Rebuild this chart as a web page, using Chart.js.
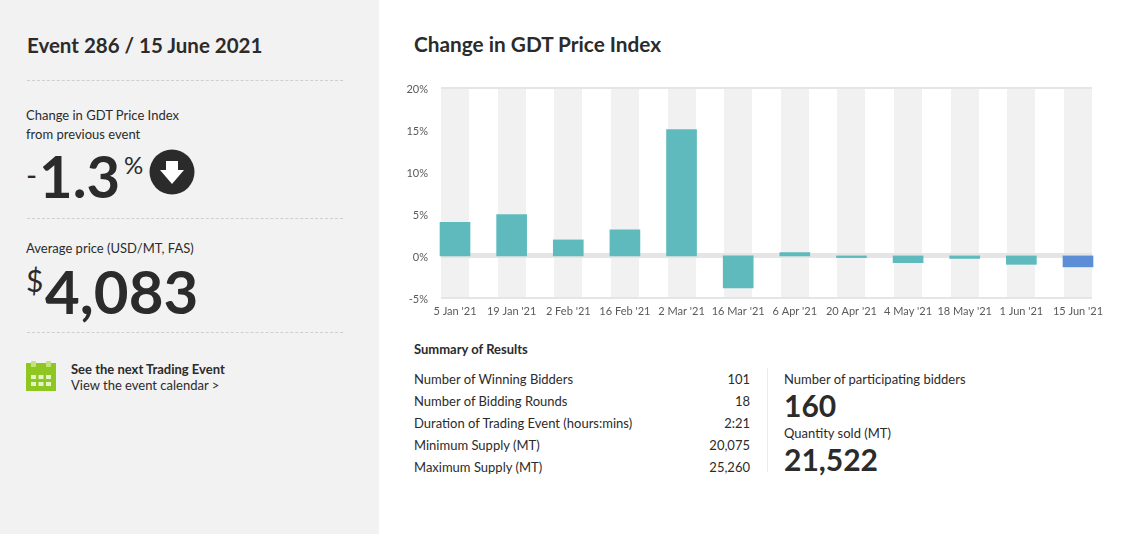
<!DOCTYPE html>
<html>
<head>
<meta charset="utf-8">
<script src="https://cdn.jsdelivr.net/npm/chart.js@4"></script>
<style>
  html, body { margin: 0; padding: 0; background: #fff; }
  body { width: 1144px; height: 534px; overflow: hidden; position: relative; font-family: Lato, sans-serif; color: #2b2b2b; }
  #side { position: absolute; left: 0; top: 0; width: 379px; height: 534px; background: #f2f2f2; }
  .t { position: absolute; white-space: nowrap; line-height: 1; }
  .dash { position: absolute; left: 27px; width: 316px; border-top: 1px dashed #cfcfcf; }
  #chartBox { position: absolute; left: 400px; top: 68px; width: 744px; height: 257px; }
  #divider { position: absolute; left: 767px; top: 368px; width: 1px; height: 104px; background: #ececec; }
</style>
</head>
<body>
<div id="side">
  <div class="t" style="left:27px;top:35px;font-size:20.5px;font-weight:700">Event 286 / 15 June 2021</div>
  <div class="dash" style="top:80px"></div>
  <div class="t" style="left:26px;top:109px;font-size:13px">Change in GDT Price Index</div>
  <div class="t" style="left:26px;top:128px;font-size:13px">from previous event</div>
  <div class="t" style="left:26px;top:159px;font-size:30px">-</div>
  <div class="t" style="left:39px;top:147px;font-size:58px;font-weight:700">1.3</div>
  <div class="t" style="left:124px;top:153px;font-size:24px">%</div>
  <svg style="position:absolute;left:149px;top:149px" width="46" height="46" viewBox="0 0 46 46">
    <circle cx="23" cy="23" r="22.5" fill="#2b2b2b"/>
    <polygon points="17,12 29,12 29,21 35,21 23,35 11,21 17,21" fill="#fff"/>
  </svg>
  <div class="dash" style="top:218px"></div>
  <div class="t" style="left:26px;top:242px;font-size:13px">Average price (USD/MT, FAS)</div>
  <div class="t" style="left:26px;top:265px;font-size:30px">$</div>
  <div class="t" style="left:45px;top:261px;font-size:60px;font-weight:700">4,083</div>
  <div class="dash" style="top:332px"></div>
  <svg style="position:absolute;left:26px;top:361px" width="30" height="30" viewBox="0 0 30 30">
    <rect x="0" y="2" width="30" height="28" fill="#8fc722"/>
    <rect x="5" y="0" width="5" height="6" rx="1" fill="#c5e27e"/>
    <rect x="20" y="0" width="5" height="6" rx="1" fill="#c5e27e"/>
    <g fill="#e6f2c8">
      <rect x="5" y="14" width="5" height="4"/><rect x="12.5" y="14" width="5" height="4"/><rect x="20" y="14" width="5" height="4"/>
      <rect x="5" y="21" width="5" height="4"/><rect x="12.5" y="21" width="5" height="4"/><rect x="20" y="21" width="5" height="4"/>
    </g>
  </svg>
  <div class="t" style="left:71px;top:363px;font-size:13px;font-weight:700">See the next Trading Event</div>
  <div class="t" style="left:71px;top:379px;font-size:13px">View the event calendar &gt;</div>
</div>

<div class="t" style="left:414px;top:34px;font-size:20.8px;font-weight:700">Change in GDT Price Index</div>
<div id="chartBox"><canvas id="gdtChart"></canvas></div>

<div class="t" style="left:414px;top:343px;font-size:13px;font-weight:700">Summary of Results</div>
<div id="summary"></div>
<div id="divider"></div>
<div class="t" style="left:784px;top:373px;font-size:13px">Number of participating bidders</div>
<div class="t" style="left:784px;top:390px;font-size:30px;font-weight:700">160</div>
<div class="t" style="left:784px;top:427px;font-size:13px">Quantity sold (MT)</div>
<div class="t" style="left:784px;top:444px;font-size:30px;font-weight:700">21,522</div>

<script>
const categories = ["5 Jan '21", "19 Jan '21", "2 Feb '21", "16 Feb '21", "2 Mar '21", "16 Mar '21",
  "6 Apr '21", "20 Apr '21", "4 May '21", "18 May '21", "1 Jun '21", "15 Jun '21"];
const changeValues = [4.0, 4.9, 1.9, 3.1, 15.0, -3.8, 0.4, -0.2, -0.8, -0.3, -1.0, -1.3];
const barColors = ["#5fbabd", "#5fbabd", "#5fbabd", "#5fbabd", "#5fbabd", "#5fbabd",
  "#5fbabd", "#5fbabd", "#5fbabd", "#5fbabd", "#5fbabd", "#5b8ed6"];
const summaryLabels = ["Number of Winning Bidders", "Number of Bidding Rounds",
  "Duration of Trading Event (hours:mins)", "Minimum Supply (MT)", "Maximum Supply (MT)"];
const summaryValues = ["101", "18", "2:21", "20,075", "25,260"];

/* summary table */
const summary = document.getElementById("summary");
summaryLabels.forEach((label, i) => {
  const top = 373 + i * 22;
  summary.insertAdjacentHTML("beforeend",
    `<div class="t" style="left:414px;top:${top}px;font-size:13px">${label}</div>` +
    `<div class="t" style="right:394px;top:${top}px;font-size:13px">${summaryValues[i]}</div>`);
});

/* chart */
new Chart(document.getElementById("gdtChart"), {
  type: "bar",
  data: {
    datasets: [{
      data: changeValues.map((v, i) => ({ x: i, y: v })),
      backgroundColor: barColors,
      barThickness: 30,
      base: 1e-9, // non-zero so bars are not shortened by the thick zero line
      clip: false
    }]
  },
  options: {
    responsive: true,
    maintainAspectRatio: false,
    animation: false,
    layout: { padding: { top: 12, right: 52 } },
    plugins: { legend: { display: false }, tooltip: { enabled: false } },
    scales: {
      x: {
        type: "linear",
        offset: false,
        min: -0.2474,
        max: 11.2474,
        afterBuildTicks: scale => { scale.ticks = categories.map((c, i) => ({ value: i })); },
        afterFit: scale => { scale.height = 27; },
        border: { display: false },
        grid: { offset: false, color: "#f1f1f1", lineWidth: 28, drawTicks: false },
        ticks: {
          autoSkip: false,
          maxRotation: 0,
          padding: 7,
          color: "#5a5a5a",
          font: { family: "Lato", size: 11 },
          callback: v => categories[v]
        }
      },
      y: {
        min: -5,
        max: 20,
        afterFit: scale => { scale.width = 41; },
        border: { display: false },
        grid: {
          drawTicks: false,
          color: ctx => ctx.tick.value === 0 || ctx.tick.value === 20 || ctx.tick.value === -5 ? "#e5e5e5" : "rgba(0,0,0,0)",
          lineWidth: ctx => ctx.tick.value === 0 ? 5 : 2
        },
        ticks: {
          stepSize: 5,
          padding: 13,
          labelOffset: 1.5,
          color: "#5a5a5a",
          font: { family: "Lato", size: 11 },
          callback: v => v + "%"
        }
      }
    }
  }
});
</script>
</body>
</html>
